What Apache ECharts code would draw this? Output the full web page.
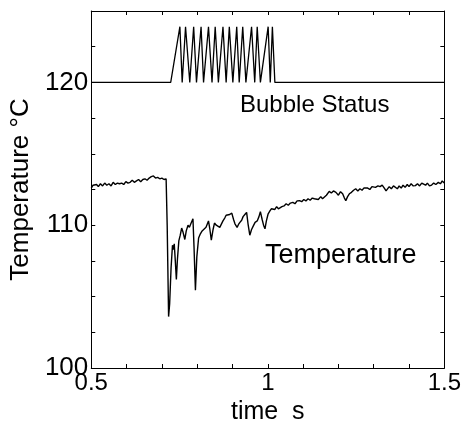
<!DOCTYPE html>
<html>
<head>
<meta charset="utf-8">
<script src="https://cdn.jsdelivr.net/npm/echarts@6/dist/echarts.min.js"></script>
<style>html,body{margin:0;padding:0;background:#fff}#c{width:464px;height:432px}</style>
</head>
<body>
<div id="c"></div>
<script>
// Temperature trace (time in s, temperature in °C)
var tempTime = [0.500,0.505,0.510,0.515,0.520,0.526,0.532,0.538,0.544,0.550,0.556,0.562,0.568,0.574,0.580,0.586,0.592,0.598,0.604,0.610,0.616,0.622,0.628,0.634,0.640,0.646,0.652,0.658,0.664,0.670,0.676,0.682,0.688,0.694,0.700,0.706,0.712,0.715,0.719,0.722,0.726,0.730,0.733,0.735,0.738,0.741,0.744,0.748,0.752,0.756,0.760,0.765,0.769,0.774,0.778,0.782,0.788,0.791,0.795,0.799,0.804,0.809,0.814,0.819,0.825,0.829,0.832,0.836,0.840,0.845,0.849,0.854,0.859,0.864,0.868,0.873,0.878,0.882,0.887,0.892,0.898,0.903,0.907,0.913,0.917,0.921,0.926,0.930,0.935,0.940,0.944,0.949,0.954,0.959,0.964,0.970,0.975,0.979,0.984,0.988,0.992,0.996,1.001,1.006,1.010,1.015,1.020,1.025,1.030,1.034,1.040,1.046,1.052,1.058,1.064,1.071,1.077,1.083,1.090,1.096,1.102,1.108,1.114,1.120,1.126,1.132,1.137,1.143,1.150,1.155,1.160,1.166,1.174,1.180,1.186,1.193,1.200,1.206,1.212,1.217,1.221,1.226,1.231,1.237,1.243,1.249,1.255,1.261,1.267,1.272,1.277,1.283,1.289,1.295,1.300,1.305,1.312,1.318,1.324,1.330,1.335,1.338,1.344,1.350,1.356,1.361,1.367,1.372,1.378,1.383,1.389,1.395,1.400,1.406,1.412,1.418,1.424,1.430,1.436,1.441,1.447,1.452,1.458,1.464,1.470,1.476,1.483,1.489,1.494,1.500];
var tempValue = [112.6,112.8,112.7,112.85,112.7,112.9,112.75,112.95,112.8,112.9,112.75,113.0,112.85,112.95,112.9,112.95,112.85,113.05,112.95,113.0,113.15,113.0,113.1,113.2,113.05,113.2,113.25,113.15,113.3,113.4,113.45,113.3,113.35,113.25,113.3,113.2,113.25,110.0,103.6,104.5,107.0,108.6,108.3,108.7,107.5,106.2,107.6,108.9,109.3,109.8,109.5,109.0,109.6,110.0,109.85,110.1,110.45,108.5,105.45,107.8,109.1,109.4,109.6,109.5,109.85,109.9,110.3,109.7,108.95,109.7,110.15,110.0,110.05,109.85,109.9,110.3,110.5,110.7,110.6,110.75,110.85,110.4,110.1,109.85,110.05,110.2,110.35,110.6,110.75,110.9,110.1,109.3,109.7,109.95,110.2,110.3,110.6,110.95,110.4,110.0,109.75,110.3,110.8,111.0,111.15,111.25,111.1,111.3,111.15,111.05,111.3,111.35,111.5,111.4,111.55,111.6,111.5,111.7,111.72,111.65,111.8,111.7,111.85,111.75,111.9,111.85,111.95,111.8,112.0,111.85,111.84,112.1,112.37,112.25,112.4,112.3,112.1,112.35,112.2,111.9,111.72,112.0,112.2,112.3,112.45,112.55,112.4,112.55,112.45,112.6,112.47,112.6,112.5,112.7,112.6,112.65,112.75,112.7,112.81,112.6,112.4,112.47,112.7,112.55,112.75,112.7,112.55,112.75,112.6,112.8,112.65,112.85,112.7,112.9,112.75,112.77,112.9,112.75,112.95,112.94,112.8,112.95,112.75,112.81,112.95,112.85,113.0,112.9,113.1,112.95];

// Bubble status trace (baseline 120, active level ~124)
var bubbleTime  = [0.500,0.725,0.751,0.7575,0.767,0.779,0.790,0.798,0.811,0.818,0.832,0.842,0.851,0.860,0.873,0.882,0.891,0.901,0.912,0.919,0.929,0.938,0.954,0.963,0.970,0.979,1.001,1.007,1.013,1.017,1.020,1.500];
var bubbleValue = [120,120,123.9,120,123.9,120,123.9,120,123.9,120,123.9,120,123.9,120,123.9,120,123.9,120,123.9,120,123.9,120,123.9,120,123.9,120,123.9,120,123.9,123.9,120,120];

var xTicks = [0.5, 1, 1.5];
var yTicks = [100, 110, 120];

function zip(a, b) { return a.map(function (v, i) { return [v, b[i]]; }); }

var FONT = 'Liberation Sans, Arial, sans-serif';
var chart = echarts.init(document.getElementById('c'), null, {renderer: 'canvas'});
var axisLine = {show: true, lineStyle: {color: '#000', width: 1}};
chart.setOption({
  animation: false,
  backgroundColor: '#fff',
  grid: {left: 90, right: 18, top: 11, bottom: 64, containLabel: false},
  xAxis: [{
    type: 'value', min: 0.5, max: 1.5, interval: 0.1, position: 'bottom',
    axisLine: axisLine,
    axisTick: {show: true, inside: true, length: 4, lineStyle: {color: '#000'}},
    splitLine: {show: false},
    axisLabel: {color: '#000', fontFamily: FONT, fontSize: 24, margin: 3,
      formatter: function (v) { var r = Math.round(v * 10) / 10; return xTicks.indexOf(r) >= 0 ? String(r) : ''; }},
    name: 'time  s', nameLocation: 'middle', nameGap: 24,
    nameTextStyle: {color: '#000', fontFamily: FONT, fontSize: 25}
  }, {
    type: 'value', min: 0.5, max: 1.5, interval: 0.1, position: 'top',
    axisLine: axisLine,
    axisTick: {show: true, inside: true, length: 4, lineStyle: {color: '#000'}},
    axisLabel: {show: false}, splitLine: {show: false}
  }],
  yAxis: [{
    type: 'value', min: 100, max: 125, interval: 2.5, position: 'left',
    axisLine: axisLine,
    axisTick: {show: true, inside: true, length: 4, lineStyle: {color: '#000'}},
    splitLine: {show: false},
    axisLabel: {color: '#000', fontFamily: FONT, fontSize: 26, margin: 3,
      formatter: function (v) { return yTicks.indexOf(v) >= 0 ? String(v) : ''; }},
    name: 'Temperature °C', nameLocation: 'middle', nameGap: 52,
    nameTextStyle: {color: '#000', fontFamily: FONT, fontSize: 26}
  }, {
    type: 'value', min: 100, max: 125, interval: 2.5, position: 'right',
    axisLine: axisLine,
    axisTick: {show: true, inside: true, length: 4, lineStyle: {color: '#000'}},
    axisLabel: {show: false}, splitLine: {show: false}
  }],
  series: [{
    type: 'line', name: 'Temperature', data: zip(tempTime, tempValue),
    showSymbol: false, symbol: 'none',
    lineStyle: {color: '#000', width: 1.4}
  }, {
    type: 'line', name: 'Bubble Status', data: zip(bubbleTime, bubbleValue),
    showSymbol: false, symbol: 'none',
    lineStyle: {color: '#000', width: 1.3}
  }],
  graphic: [{
    type: 'text', left: 240, top: 93,
    style: {text: 'Bubble Status', fill: '#000', font: '24px ' + FONT}
  }, {
    type: 'text', left: 265, top: 242,
    style: {text: 'Temperature', fill: '#000', font: '27px ' + FONT}
  }]
});
</script>
</body>
</html>
